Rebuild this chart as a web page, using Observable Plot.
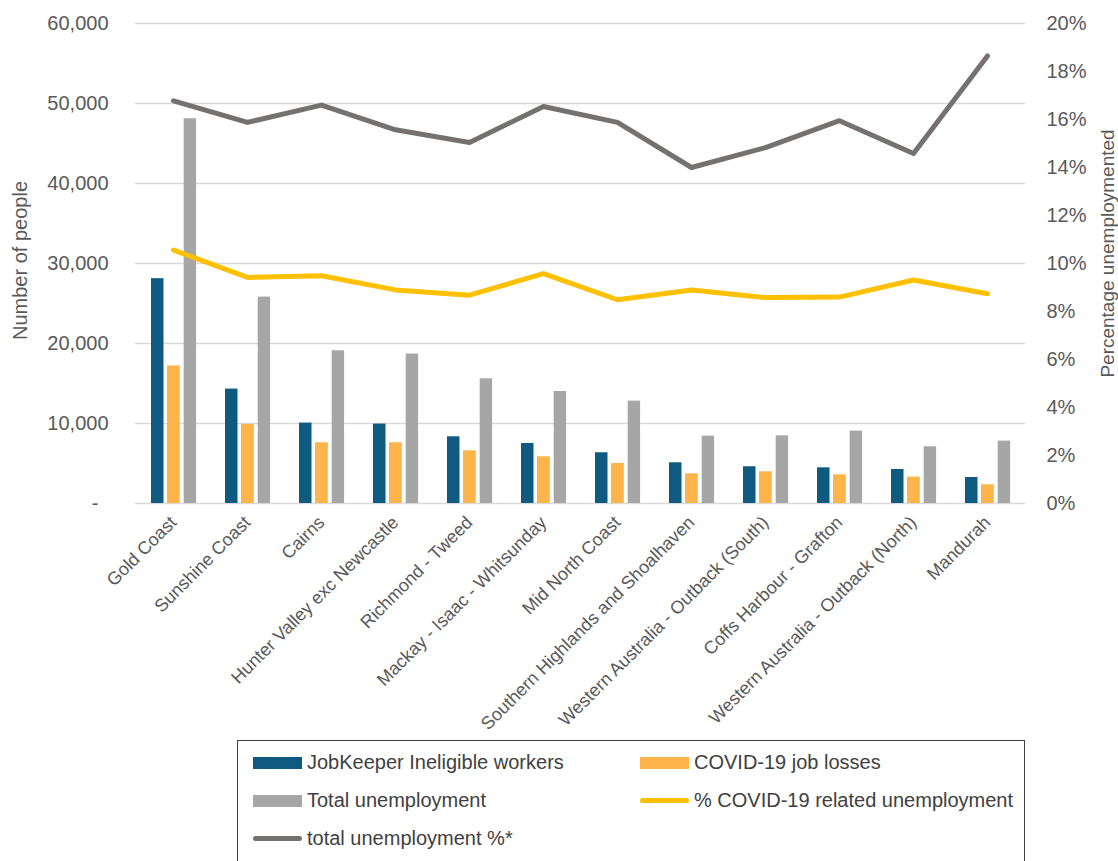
<!DOCTYPE html>
<html>
<head>
<meta charset="utf-8">
<script src="https://cdn.jsdelivr.net/npm/d3@7"></script>
<script src="https://cdn.jsdelivr.net/npm/@observablehq/plot@0.6"></script>
<style>
  body { margin: 0; background: #fff; font-family: "Liberation Sans", Arial, sans-serif; }
  #chart { position: relative; width: 1118px; height: 861px; overflow: hidden; }
  #legend {
    position: absolute; left: 237px; top: 740px; width: 788px; height: 140px;
    border: 1.5px solid #404040; box-sizing: border-box; color: #404040; font-size: 20px;
  }
  .item { position: absolute; display: flex; align-items: center; white-space: nowrap; }
  .sw { display: inline-block; width: 49px; margin-right: 5px; }
  .rect { height: 12px; }
  .ln { height: 5px; border-radius: 3px; }
</style>
</head>
<body>
<div id="chart"></div>
<script>
const categories = [
  "Gold Coast", "Sunshine Coast", "Cairns", "Hunter Valley exc Newcastle",
  "Richmond - Tweed", "Mackay - Isaac - Whitsunday", "Mid North Coast",
  "Southern Highlands and Shoalhaven", "Western Australia - Outback (South)",
  "Coffs Harbour - Grafton", "Western Australia - Outback (North)", "Mandurah"
];
const jobkeeperIneligible = [28100, 14300, 10050, 9930, 8340, 7500, 6340, 5090, 4590, 4460, 4250, 3250];
const covidJobLosses      = [17200, 9880, 7590, 7590, 6590, 5840, 5000, 3710, 3960, 3590, 3300, 2340];
const totalUnemployment   = [48100, 25800, 19090, 18680, 15590, 14000, 12800, 8420, 8460, 9050, 7090, 7800];
const covidPct  = [10.56, 9.42, 9.49, 8.90, 8.68, 9.58, 8.49, 8.90, 8.58, 8.60, 9.31, 8.74];
const totalPct  = [16.78, 15.88, 16.60, 15.57, 15.04, 16.54, 15.88, 14.00, 14.83, 15.95, 14.58, 18.65];

const leftTicks = [0, 10000, 20000, 30000, 40000, 50000, 60000];
const rightTicks = [0, 2, 4, 6, 8, 10, 12, 14, 16, 18, 20];
const pctToY = 3000; // 20% maps to 60,000

const leftLabel = "Number of people";
const rightLabel = "Percentage unemploymented";
const seriesNames = ["JobKeeper Ineligible workers", "COVID-19 job losses", "Total unemployment",
  "% COVID-19 related unemployment", "total unemployment %*"];
const colors = ["#0E5A80", "#FDB44B", "#A6A6A6", "#FFC000", "#767171"];

const rows = categories.map((c, i) => ({
  cat: c, jk: jobkeeperIneligible[i], cv: covidJobLosses[i], tu: totalUnemployment[i],
  cp: covidPct[i], tp: totalPct[i]
}));

const fmt = d3.format(",");
const plot = Plot.plot({
  width: 1118,
  height: 740,
  marginLeft: 135,
  marginRight: 93,
  marginTop: 23,
  marginBottom: 237,
  style: { fontFamily: "'Liberation Sans', Arial, sans-serif", fontSize: "20px", color: "#595959", background: "transparent" },
  x: { type: "band", domain: categories, padding: 0 },
  y: { domain: [0, 60000] },
  marks: [
    Plot.gridY(leftTicks, { stroke: "#D9D9D9", strokeOpacity: 1, strokeWidth: 1.5 }),
    Plot.barY(rows, { x: "cat", y: "jk", fill: colors[0], insetLeft: 15, insetRight: 46.5 }),
    Plot.barY(rows, { x: "cat", y: "cv", fill: colors[1], insetLeft: 31, insetRight: 30.2 }),
    Plot.barY(rows, { x: "cat", y: "tu", fill: colors[2], insetLeft: 47.7, insetRight: 13.9 }),
    Plot.line(rows, { x: "cat", y: d => d.cp * pctToY, stroke: colors[3], strokeWidth: 5, strokeLinecap: "round", strokeLinejoin: "round" }),
    Plot.line(rows, { x: "cat", y: d => d.tp * pctToY, stroke: colors[4], strokeWidth: 5, strokeLinecap: "round", strokeLinejoin: "round" }),
    Plot.axisY(leftTicks, {
      anchor: "left", tickSize: 0, tickPadding: 27, fontSize: 20,
      tickFormat: d => d === 0 ? "-\u2002" : fmt(d), label: null
    }),
    Plot.axisY(rightTicks.map(p => p * pctToY), {
      anchor: "right", tickSize: 0, tickPadding: 21, fontSize: 20,
      tickFormat: d => Math.round(d / pctToY) + "%", label: null
    }),
    Plot.axisX({ tickRotate: -45, tickSize: 0, tickPadding: 16, fontSize: 18, label: null }),
    Plot.text([leftLabel], { text: d => d, frameAnchor: "left", textAnchor: "middle", dx: -115, dy: -3, rotate: -90, fontSize: 20, fill: "#595959" }),
    Plot.text([rightLabel], { text: d => d, frameAnchor: "right", textAnchor: "middle", dx: 82, dy: -10, rotate: -90, fontSize: 19, fill: "#595959" })
  ]
});
document.getElementById("chart").appendChild(plot);

const legend = document.createElement("div");
legend.id = "legend";
const pos = [[15, 10], [402, 10], [15, 48], [402, 48], [15, 86]];
seriesNames.forEach((name, i) => {
  const it = document.createElement("div");
  it.className = "item";
  it.style.left = pos[i][0] + "px";
  it.style.top = pos[i][1] + "px";
  const sw = document.createElement("span");
  sw.className = "sw " + (i < 3 ? "rect" : "ln");
  sw.style.background = colors[i];
  it.appendChild(sw);
  const t = document.createElement("span");
  t.textContent = name;
  it.appendChild(t);
  legend.appendChild(it);
});
document.getElementById("chart").appendChild(legend);
</script>
</body>
</html>
